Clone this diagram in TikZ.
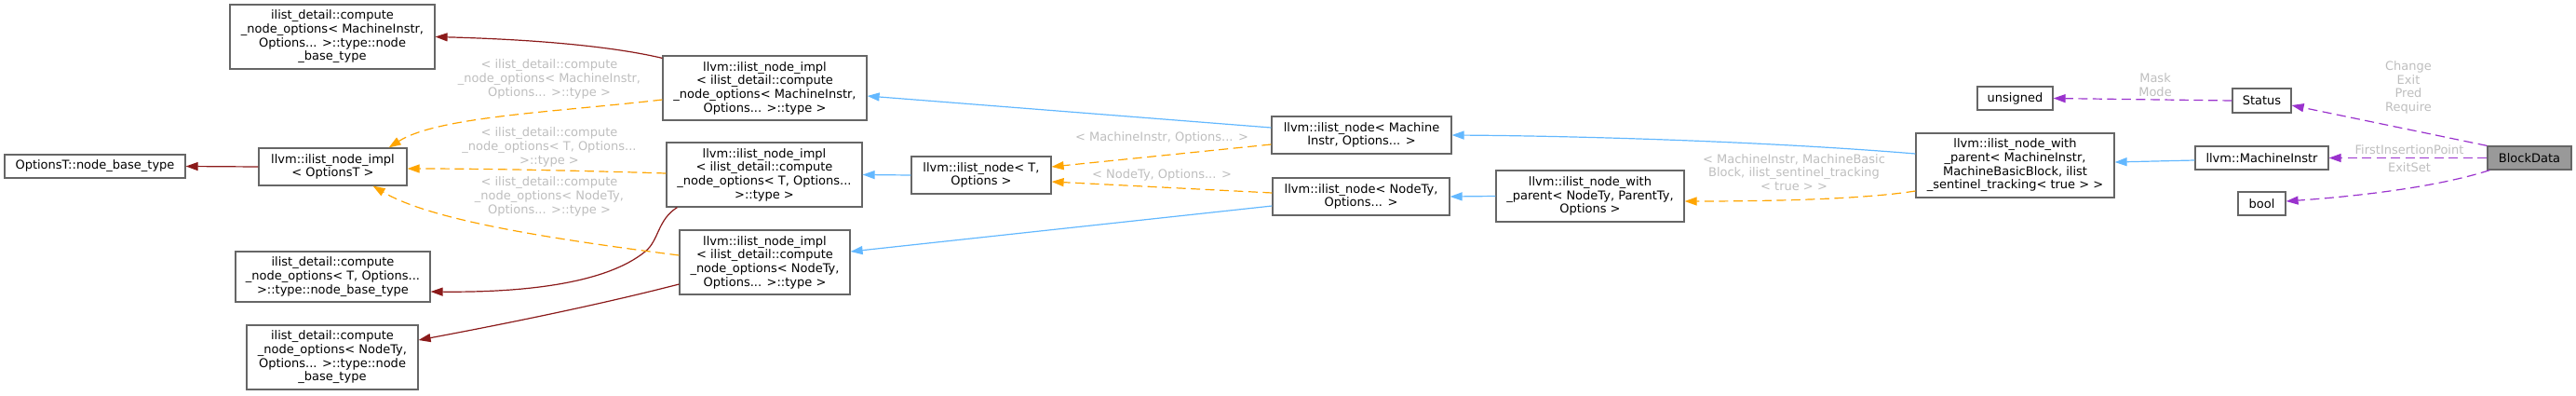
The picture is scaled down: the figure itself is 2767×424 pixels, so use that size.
\documentclass[tikz,border=0pt]{standalone}
\usepackage{fontspec}
\setmainfont{DejaVu Sans}
\usetikzlibrary{arrows.meta,calc}
\definecolor{edgered}{HTML}{8B1A1A}
\definecolor{edgeblue}{HTML}{63B8FF}
\definecolor{edgeorange}{HTML}{FFA500}
\definecolor{edgepurple}{HTML}{9A32CD}
\definecolor{boxborder}{HTML}{666666}
\definecolor{labelgray}{HTML}{BEBEBE}
\definecolor{fillgray}{HTML}{999999}
\begin{document}
\begin{tikzpicture}[x=1pt,y=-1pt,
  box/.style={draw=boxborder, line width=1.2pt, fill=white, align=center, inner sep=0pt,
    font=\fontsize{13}{14.7}\selectfont},
  lbl/.style={text=labelgray, align=center, inner sep=0pt, font=\fontsize{13}{14.7}\selectfont},
  tipped/.style={line width=1.2pt, -{Triangle[length=13pt,width=9pt]}},
  pub/.style={tipped, draw=edgeblue},
  usage/.style={tipped, draw=edgered},
  tmpl/.style={tipped, draw=edgeorange, dash pattern=on 10pt off 5.5pt},
  member/.style={tipped, draw=edgepurple, dash pattern=on 10pt off 5.5pt},
]
\useasboundingbox (0,0) rectangle (2767,424);

% nodes
\node[box, minimum width=220pt, minimum height=69pt] (A) at (357,39.5)
  {ilist\_detail::compute\\\_node\_options< MachineInstr,\\Options... >::type::node\\\_base\_type};
\node[box, minimum width=194pt, minimum height=25pt] (OT) at (102,178.5)
  {OptionsT::node\_base\_type};
\node[box, minimum width=159pt, minimum height=40pt] (B) at (357.5,179)
  {llvm::ilist\_node\_impl\\< OptionsT >};
\node[box, minimum width=209pt, minimum height=54pt] (C) at (357.5,297)
  {ilist\_detail::compute\\\_node\_options< T, Options...\\>::type::node\_base\_type};
\node[box, minimum width=184pt, minimum height=69pt] (D) at (357,383.5)
  {ilist\_detail::compute\\\_node\_options< NodeTy,\\Options... >::type::node\\\_base\_type};
\node[box, minimum width=219pt, minimum height=69pt] (E) at (821.5,94.5)
  {llvm::ilist\_node\_impl\\< ilist\_detail::compute\\\_node\_options< MachineInstr,\\Options... >::type >};
\node[box, minimum width=210pt, minimum height=69pt] (F) at (821,187.5)
  {llvm::ilist\_node\_impl\\< ilist\_detail::compute\\\_node\_options< T, Options...\\>::type >};
\node[box, minimum width=183pt, minimum height=69pt] (G) at (821.5,281.5)
  {llvm::ilist\_node\_impl\\< ilist\_detail::compute\\\_node\_options< NodeTy,\\Options... >::type >};
\node[box, minimum width=150pt, minimum height=40pt] (H) at (1054,188)
  {llvm::ilist\_node< T,\\Options >};
\node[box, minimum width=193pt, minimum height=40pt] (I) at (1462.5,145)
  {llvm::ilist\_node< Machine\\Instr, Options... >};
\node[box, minimum width=190pt, minimum height=40pt] (J) at (1462,211)
  {llvm::ilist\_node< NodeTy,\\Options... >};
\node[box, minimum width=202pt, minimum height=55pt] (K) at (1708,210.5)
  {llvm::ilist\_node\_with\\\_parent< NodeTy, ParentTy,\\Options >};
\node[box, minimum width=213pt, minimum height=69pt] (L) at (2164.5,177.5)
  {llvm::ilist\_node\_with\\\_parent< MachineInstr,\\MachineBasicBlock, ilist\\\_sentinel\_tracking< true > >};
\node[box, minimum width=81pt, minimum height=25pt] (M) at (2164.5,105.5) {unsigned};
\node[box, minimum width=63pt, minimum height=26pt] (N) at (2429.5,108) {Status};
\node[box, minimum width=143pt, minimum height=25pt] (O) at (2429.5,169.5) {llvm::MachineInstr};
\node[box, minimum width=51pt, minimum height=25pt] (P) at (2429.5,218.5) {bool};
\node[box, fill=fillgray, minimum width=90pt, minimum height=25pt] (Q) at (2717,169.5) {BlockData};

% edges: usage (red)
\draw[usage] ($(E.north west)+(0,3)$) .. controls (650,48) and (560,42) .. (A.east);
\draw[usage] (B.west) -- (OT.east);
\draw[usage] ($(F.south west)+(12,0)$) .. controls (706,236) and (708,258) .. (693,270)
  .. controls (650,305) and (560,314) .. ($(C.east)+(0,16)$);
\draw[usage] ($(G.west)+(0,23.5)$) .. controls (640,328) and (540,348) .. ($(D.east)+(0,-18.5)$);

% template (orange)
\draw[tmpl] ($(E.west)+(0,12.5)$) .. controls (600,120) and (470,125) .. ($(B.north east)+(-20,0)$);
\draw[tmpl] ($(F.west)+(0,-1.5)$) .. controls (620,183) and (520,181) .. ($(B.east)+(0,2)$);
\draw[tmpl] ($(G.west)+(0,-7.5)$) .. controls (580,255) and (460,235) .. ($(B.south east)+(-37,0)$);
\draw[tmpl] ($(I.west)+(0,10)$) -- ($(H.east)+(0,-9)$);
\draw[tmpl] ($(J.west)+(0,-4)$) -- ($(H.east)+(0,7)$);
\draw[tmpl] ($(L.west)+(0,27.5)$) .. controls (2000,214) and (1900,216) .. ($(K.east)+(0,5.5)$);

% public inheritance (blue)
\draw[pub] ($(I.west)+(0,-8)$) -- ($(E.east)+(0,8.5)$);
\draw[pub] (H.west) -- (F.east);
\draw[pub] ($(J.west)+(0,10)$) -- ($(G.east)+(0,-11.5)$);
\draw[pub] ($(L.west)+(0,-12.5)$) .. controls (1900,152) and (1700,146) .. (I.east);
\draw[pub] (K.west) -- (J.east);
\draw[pub] ($(O.west)+(0,2.5)$) -- ($(L.east)+(0,-3.5)$);

% members (purple)
\draw[member] (N.west) -- (M.east);
\draw[member] (Q.north west) -- ($(N.east)+(0,5)$);
\draw[member] (Q.west) -- (O.east);
\draw[member] ($(Q.south west)+(3,0)$) .. controls (2620,200) and (2540,210) .. ($(P.east)+(0,-2.5)$);

% labels
\node[lbl] (l1) at (590,85) {< ilist\_detail::compute\\\_node\_options< MachineInstr,\\Options... >::type >};
\node[lbl] (l2) at (590,158) {< ilist\_detail::compute\\\_node\_options< T, Options...\\>::type >};
\node[lbl] (l3) at (590,211) {< ilist\_detail::compute\\\_node\_options< NodeTy,\\Options... >::type >};
\node[lbl] (l4) at (1248,148) {< MachineInstr, Options... >};
\node[lbl] (l5) at (1248,188) {< NodeTy, Options... >};
\node[lbl] (l6) at (1927,185) {< MachineInstr, MachineBasic\\Block, ilist\_sentinel\_tracking\\< true > >};
\node[lbl] (l7) at (2315,91) {Mask\\Mode};
\node[lbl] (l8) at (2587,94) {Change\\Exit\\Pred\\Require};
\node[lbl] (l9) at (2588,161) {FirstInsertionPoint};
\node[lbl] (l10) at (2588,180) {ExitSet};
\end{tikzpicture}
\end{document}
